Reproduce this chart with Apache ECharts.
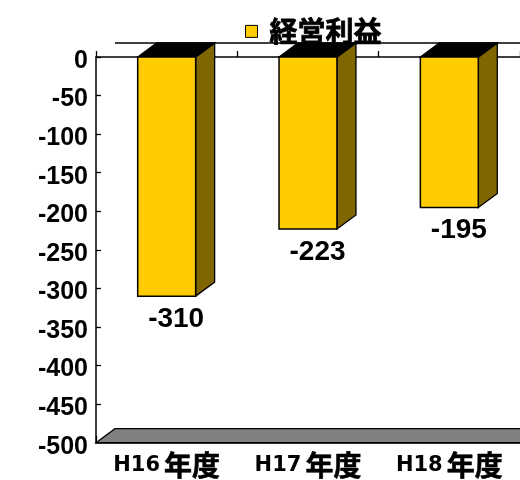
<!DOCTYPE html>
<html>
<head>
<meta charset="utf-8">
<script src="https://cdn.jsdelivr.net/npm/echarts@6/dist/echarts.min.js"></script>
<style>
html,body{margin:0;padding:0;background:#fff;}
#chart{width:520px;height:480px;}
</style>
</head>
<body>
<div id="chart"></div>
<script>
// ---- data ----
const categories = ['H16年度', 'H17年度', 'H18年度'];
const profit = [-310, -223, -195];
const seriesName = '経営利益';
const yMin = -500, yMax = 0, yStep = 50;

// ---- style constants ----
const DX = 19, DY = 14;
const FRONT = '#FFCC00', SIDE = '#806600', FLOOR = '#808080';
const LATIN = '"Liberation Sans", Arial, "Noto Sans CJK JP", sans-serif';
const CJK = '"Noto Sans CJK JP", sans-serif';
const MIXLAT = '"DejaVu Sans", "Noto Sans CJK JP", sans-serif';

function renderBar(params, api) {
  const i = api.value(0), v = api.value(1);
  const top = api.coord([i, 0]);
  const bot = api.coord([i, v]);
  const band = api.size([1, 0])[0];
  const w = band * 0.41;
  const x0 = top[0] - w / 2, x1 = top[0] + w / 2;
  const y0 = top[1], y1 = bot[1];
  return {
    type: 'group',
    children: [
      { type: 'polygon', shape: { points: [[x1, y0], [x1 + DX, y0 - DY], [x1 + DX, y1 - DY], [x1, y1]] },
        style: { fill: SIDE, stroke: '#000', lineWidth: 1.3 } },
      { type: 'polygon', shape: { points: [[x0, y0], [x0 + DX, y0 - DY], [x1 + DX, y0 - DY], [x1, y0]] },
        style: { fill: '#000', stroke: '#000', lineWidth: 1.3 } },
      { type: 'rect', shape: { x: x0, y: y0, width: w, height: y1 - y0 },
        style: { fill: FRONT, stroke: '#000', lineWidth: 1.5 } },
      { type: 'text', x: top[0] + DX / 2, y: y1 + 9,
        style: { text: String(v), fill: '#000', font: 'bold 28px ' + LATIN, textAlign: 'center', textVerticalAlign: 'top' } }
    ]
  };
}

function renderFrame(params, api) {
  const cs = params.coordSys;
  const x = cs.x, y = cs.y, w = cs.width, h = cs.height;
  return {
    type: 'group',
    children: [
      { type: 'polygon', shape: { points: [[x, y + h], [x + DX, y + h - DY], [x + w + DX, y + h - DY], [x + w, y + h]] },
        style: { fill: FLOOR, stroke: '#000', lineWidth: 1.3 } },
      { type: 'line', shape: { x1: x + DX, y1: y - DY, x2: x + w + DX, y2: y - DY },
        style: { stroke: '#000', lineWidth: 1.5 } }
    ]
  };
}

function catLabel(s) {
  const m = s.match(/^([A-Za-z0-9]+)(.*)$/);
  return m ? '{a|' + m[1] + '}{b|' + m[2] + '}' : s;
}

const chart = echarts.init(document.getElementById('chart'), null, { renderer: 'canvas' });
chart.setOption({
  animation: false,
  backgroundColor: '#fff',
  legend: {
    data: [seriesName],
    left: 240,
    top: 12,
    icon: 'rect',
    itemWidth: 12,
    itemHeight: 12,
    selectedMode: false,
    itemStyle: { borderColor: '#000', borderWidth: 1 },
    textStyle: { fontSize: 28, fontWeight: 'bold', color: '#000', fontFamily: CJK,
      textBorderColor: '#000', textBorderWidth: 0.8, padding: [0, 0, 0, 7] }
  },
  grid: { left: 96, top: 57, right: -3, bottom: 35, containLabel: false },
  xAxis: [
    {
      type: 'category',
      data: categories,
      position: 'bottom',
      axisLine: { onZero: false, lineStyle: { color: '#000', width: 1.5 } },
      axisTick: { show: true, inside: true, length: 7, lineStyle: { color: '#000', width: 1.3 } },
      axisLabel: {
        color: '#000', margin: 9, formatter: catLabel,
        rich: {
          a: { fontSize: 21, fontWeight: 'bold', fontFamily: MIXLAT, color: '#000', verticalAlign: 'middle', padding: [0, 4, 0, 0] },
          b: { fontSize: 28, fontWeight: 'bold', fontFamily: CJK, color: '#000', verticalAlign: 'middle',
               textBorderColor: '#000', textBorderWidth: 0.6 }
        }
      },
      splitLine: { show: false }
    },
    {
      type: 'category',
      data: categories,
      position: 'top',
      axisLine: { onZero: false, lineStyle: { color: '#000', width: 1.5 } },
      axisTick: { show: true, inside: false, length: 6, lineStyle: { color: '#000', width: 1.3 } },
      axisLabel: { show: false },
      splitLine: { show: false }
    }
  ],
  yAxis: {
    type: 'value',
    min: yMin,
    max: yMax,
    interval: yStep,
    axisLine: { show: true, lineStyle: { color: '#000', width: 1.5 } },
    axisTick: { show: true, inside: true, length: 5, lineStyle: { color: '#000', width: 1.3 } },
    axisLabel: {
      margin: 8,
      formatter: '{v|{value}}',
      rich: { v: { color: '#000', fontSize: 25, fontWeight: 'bold', fontFamily: LATIN, padding: [8, 0, 0, 0] } }
    },
    splitLine: { show: false }
  },
  series: [
    {
      name: 'frame',
      type: 'custom',
      xAxisIndex: 0,
      z: 1,
      silent: true,
      data: [[0, yMin]],
      renderItem: renderFrame
    },
    {
      name: seriesName,
      type: 'custom',
      xAxisIndex: 0,
      z: 3,
      itemStyle: { color: FRONT, borderColor: '#000', borderWidth: 1 },
      encode: { x: 0, y: 1 },
      data: profit.map((v, i) => [i, v]),
      renderItem: renderBar
    }
  ]
});
</script>
</body>
</html>
